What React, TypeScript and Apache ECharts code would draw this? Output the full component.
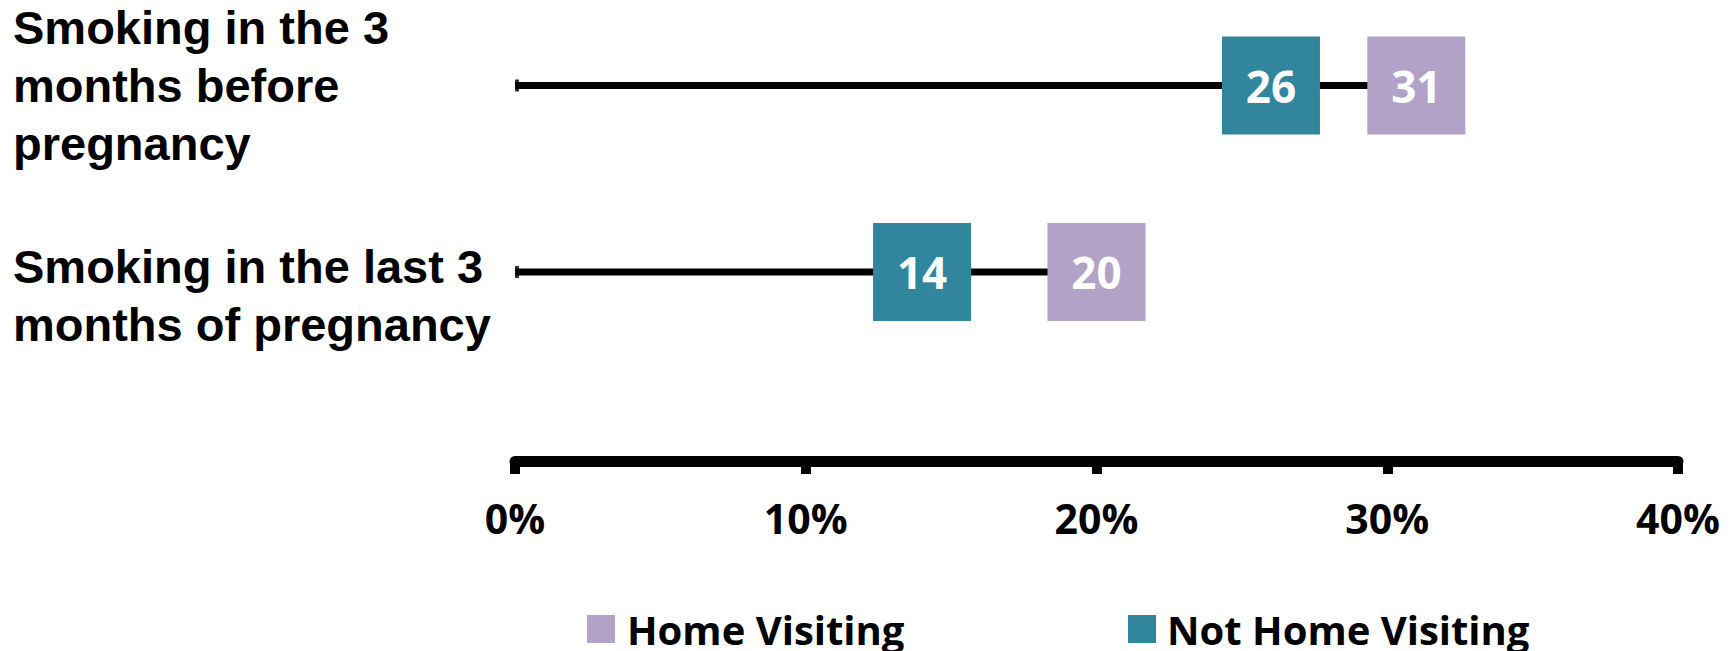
import React, { useEffect, useRef } from "react";
import * as echarts from "echarts";

const categories = [
  "Smoking in the 3\nmonths before\npregnancy",
  "Smoking in the last 3\nmonths of pregnancy",
];
const homeVisiting = [31, 20];
const notHomeVisiting = [26, 14];
const rangeEnd = categories.map((_, i) => Math.max(homeVisiting[i], notHomeVisiting[i]));
const xTicks = [0, 10, 20, 30, 40];

const TEAL = "#31859C";
const PURPLE = "#B3A2C7";
const NUM_FONT = "'Open Sans', 'Noto Sans', sans-serif";
const CAT_FONT = "'Liberation Sans', Arial, sans-serif";

export default function App() {
  const ref = useRef<HTMLDivElement>(null);
  useEffect(() => {
    if (!ref.current) return;
    const chart = echarts.init(ref.current, null, { renderer: "svg" });
    const boxLabel = {
      show: true,
      position: "inside",
      color: "#ffffff",
      fontFamily: NUM_FONT,
      fontWeight: "bold",
      fontSize: 44,
      formatter: (p: any) => String(p.value[0]),
    };
    const catText = {
      fontFamily: CAT_FONT,
      fontWeight: "bold",
      fontSize: 47,
      lineHeight: 58,
      color: "#000",
      align: "left",
    };
    const legendText = (pad: number) => ({
      fontFamily: NUM_FONT,
      fontWeight: "bold",
      fontSize: 40,
      lineHeight: 41,
      color: "#000",
      padding: [0, 0, 0, pad],
    });
    chart.setOption({
      animation: false,
      backgroundColor: "#ffffff",
      grid: { left: 515, right: 56, top: 85.5, bottom: 379, containLabel: false },
      xAxis: {
        type: "value",
        min: xTicks[0],
        max: xTicks[xTicks.length - 1],
        interval: 10,
        offset: 189,
        axisLine: { show: true, lineStyle: { color: "#000", width: 11 } },
        axisTick: { show: true, length: 13, lineStyle: { color: "#000", width: 10 } },
        splitLine: { show: false },
        axisLabel: {
          margin: 36,
          color: "#000",
          fontFamily: NUM_FONT,
          fontWeight: "bold",
          fontSize: 41,
          formatter: (v: number) => v + "%",
        },
      },
      yAxis: {
        type: "category",
        inverse: true,
        boundaryGap: false,
        data: categories,
        axisLine: { show: false },
        axisTick: { show: false },
        splitLine: { show: false },
        axisLabel: {
          align: "left",
          margin: 502,
          formatter: (value: string, index: number) => {
            const lines = value.split("\n").map((l) => "{t|" + l + "}");
            return index === 0 ? lines.join("\n") : ["{g2| }", ...lines].join("\n");
          },
          rich: {
            t: catText,
            g2: { fontSize: 47, lineHeight: 47, align: "left" },
          },
        },
      },
      legend: [
        {
          left: 587,
          top: 608.5,
          padding: 0,
          icon: "rect",
          itemWidth: 28,
          itemHeight: 28,
          data: ["Home Visiting"],
          textStyle: legendText(7),
        },
        {
          left: 1128,
          top: 608.5,
          padding: 0,
          icon: "rect",
          itemWidth: 28,
          itemHeight: 28,
          data: ["Not Home Visiting"],
          textStyle: legendText(6),
        },
      ],
      series: [
        {
          name: "range",
          type: "bar",
          data: rangeEnd,
          barWidth: 7,
          itemStyle: { color: "#000" },
          silent: true,
          z: 1,
        },
        {
          name: "cap",
          type: "scatter",
          data: categories.map((_, i) => [0, i]),
          symbol: "rect",
          symbolSize: [4, 12],
          symbolOffset: [2, 0],
          itemStyle: { color: "#000" },
          z: 2,
        },
        {
          name: "Not Home Visiting",
          type: "scatter",
          data: notHomeVisiting.map((v, i) => [v, i]),
          symbol: "rect",
          symbolSize: 98,
          itemStyle: { color: TEAL, opacity: 1 },
          label: boxLabel,
          z: 3,
        },
        {
          name: "Home Visiting",
          type: "scatter",
          data: homeVisiting.map((v, i) => [v, i]),
          symbol: "rect",
          symbolSize: 98,
          itemStyle: { color: PURPLE, opacity: 1 },
          label: boxLabel,
          z: 3,
        },
      ],
    });
    return () => chart.dispose();
  }, []);
  return (
    <div
      ref={ref}
      style={{ position: "absolute", left: 0, top: 0, width: 1734, height: 651 }}
    />
  );
}
